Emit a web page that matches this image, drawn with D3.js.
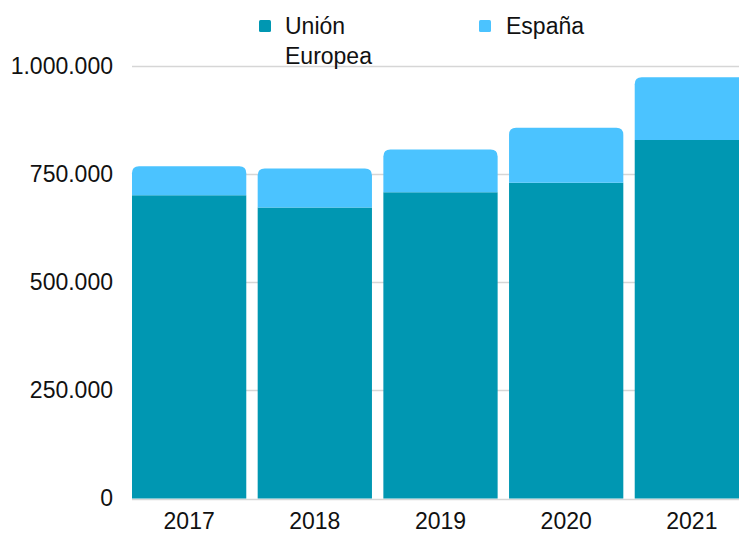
<!DOCTYPE html>
<html>
<head>
<meta charset="utf-8">
<script src="https://cdn.jsdelivr.net/npm/d3@7"></script>
<style>
  html, body { margin: 0; padding: 0; background: #ffffff; overflow: hidden; }
  svg { display: block; font-family: "Liberation Sans", Arial, sans-serif; }
</style>
</head>
<body>
<svg id="chart" width="739" height="533"></svg>
<script>
// Stacked yearly totals: Unión Europea at the base, España stacked on top
const years = ["2017", "2018", "2019", "2020", "2021"];
const seriesNames = ["Unión Europea", "España"];
const unionEuropea = [701000, 673000, 708000, 730000, 829000];
const espana = [67000, 90000, 99000, 127000, 145000];
const yTicks = [0, 250000, 500000, 750000, 1000000];
const colors = ["#0097b2", "#4bc3ff"];

const svg = d3.select("#chart");
const W = 739;

const x = d3.scaleBand()
  .domain(years)
  .range([132, 749])
  .paddingInner(0.0907)
  .paddingOuter(0);

const y = d3.scaleLinear()
  .domain([0, 1000000])
  .range([498.5, 66]);

const fmt = v => d3.format(",")(v).replace(/,/g, ".");

// Gridlines
svg.append("g")
  .selectAll("line")
  .data(yTicks)
  .join("line")
  .attr("x1", 132)
  .attr("x2", W)
  .attr("y1", d => Math.round(y(d)) + 0.5)
  .attr("y2", d => Math.round(y(d)) + 0.5)
  .attr("stroke", "#d6d6d6")
  .attr("stroke-width", 1.5);

// Y axis labels
const yAxis = d3.axisLeft(y).tickValues(yTicks).tickFormat(fmt).tickSize(0).tickPadding(0);
const gy = svg.append("g").attr("transform", "translate(113,0)").call(yAxis);
gy.select(".domain").remove();
gy.selectAll("text")
  .attr("font-size", 23)
  .attr("fill", "#111")
  .attr("font-family", "Liberation Sans, Arial, sans-serif");

// X axis labels
const xAxis = d3.axisBottom(x).tickSize(0).tickPadding(0);
const gx = svg.append("g").attr("transform", "translate(0,513)").call(xAxis);
gx.select(".domain").remove();
gx.selectAll("text")
  .attr("font-size", 23)
  .attr("fill", "#111")
  .attr("dy", "0.71em")
  .attr("font-family", "Liberation Sans, Arial, sans-serif");

// Stack the series
const rows = years.map((yr, i) => ({ year: yr, "Unión Europea": unionEuropea[i], "España": espana[i] }));
const stacked = d3.stack().keys(seriesNames)(rows);

const r = 7;
function topRounded(x0, y0, w, h, rad) {
  return `M${x0},${y0 + h}V${y0 + rad}Q${x0},${y0} ${x0 + rad},${y0}H${x0 + w - rad}Q${x0 + w},${y0} ${x0 + w},${y0 + rad}V${y0 + h}Z`;
}

stacked.forEach((layer, li) => {
  const g = svg.append("g").attr("fill", colors[li]);
  g.selectAll("path")
    .data(layer)
    .join("path")
    .attr("d", d => {
      const x0 = x(d.data.year);
      const y0 = y(d[1]);
      const h = y(d[0]) - y(d[1]);
      if (li === stacked.length - 1) return topRounded(x0, y0, x.bandwidth(), h, r);
      return `M${x0},${y0}h${x.bandwidth()}v${h}h${-x.bandwidth()}Z`;
    });
});

// Legend
const legend = svg.append("g").attr("font-size", 23).attr("fill", "#111");
const legendItems = [
  { name: seriesNames[0], lines: ["Unión", "Europea"], sx: 259, tx: 285 },
  { name: seriesNames[1], lines: ["España"], sx: 479, tx: 506 }
];
legendItems.forEach((it, i) => {
  legend.append("rect")
    .attr("x", it.sx).attr("y", 20)
    .attr("width", 12).attr("height", 12)
    .attr("rx", 1.5)
    .attr("fill", colors[i]);
  const t = legend.append("text").attr("x", it.tx).attr("y", 34);
  it.lines.forEach((ln, j) => {
    t.append("tspan").attr("x", it.tx).attr("dy", j === 0 ? 0 : 30).text(ln);
  });
});
</script>
</body>
</html>
